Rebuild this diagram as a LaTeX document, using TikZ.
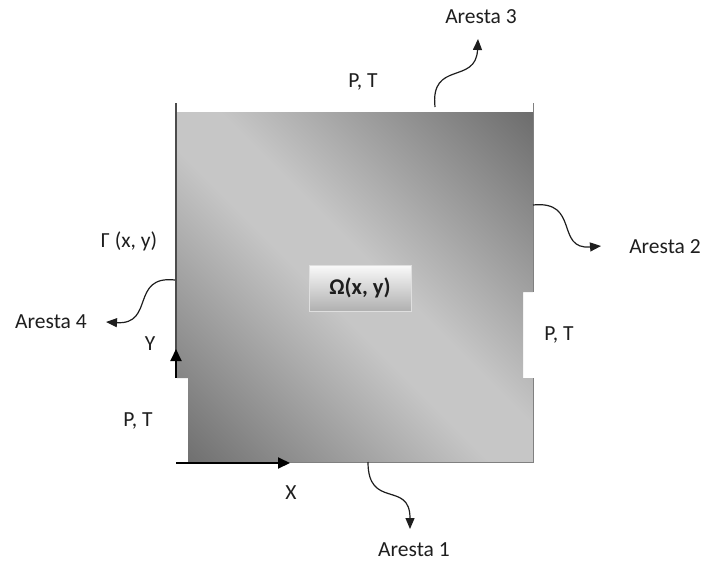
\documentclass[tikz,border=0pt]{standalone}
\usepackage{fontspec}
\setmainfont{Carlito}
\usetikzlibrary{arrows.meta}
\definecolor{shdark}{HTML}{686868}
\definecolor{shlight}{HTML}{C6C6C6}
\definecolor{edgegray}{HTML}{808080}
\definecolor{txt}{HTML}{1E1E1E}
\pgfdeclarehorizontalshading{diagshade}{100bp}{color(0bp)=(shdark); color(13bp)=(shdark); color(46bp)=(shlight); color(54bp)=(shlight); color(87bp)=(shdark); color(100bp)=(shdark)}
\tikzset{
  lbl/.style={anchor=base, inner sep=0pt, text=txt, font=\fontsize{21.5}{25}\selectfont},
  curvy/.style={draw=txt, line width=1.2pt, -{Triangle[length=11pt,width=9pt]}},
  axisarrow/.style={draw=black, line width=2pt, -{Triangle[length=12pt,width=11pt]}},
  omegabox/.style={draw=gray!25, top color=white!96!gray, bottom color=gray!62, minimum width=102pt, minimum height=46pt, inner sep=0pt, font=\bfseries\fontsize{22.5}{26}\selectfont, text=txt}
}
\begin{document}
\begin{tikzpicture}[x=1pt,y=-1pt]
\useasboundingbox[fill=white] (0,0) rectangle (706,562);
% domain
\path[shading=diagshade, shading angle=45] (177,112) -- (533,112) -- (533,292) -- (523,292) -- (523,378) -- (533,378) -- (533,462) -- (188,462) -- (188,378) -- (177,378) -- cycle;
\draw[edgegray, line width=1pt] (533,112) -- (533,292);
\draw[edgegray, line width=1pt] (533,378) -- (533,462) -- (188,462);
\draw[edgegray, line width=1pt] (533,103) -- (533,112);
\draw[black!70, line width=2pt] (176,103) -- (176,378);
% labels
\node[lbl] (a3) at (481,23) {Aresta 3};
\node[lbl] (pt3) at (363,87.5) {P, T};
\node[lbl] (a2) at (665,253) {Aresta 2};
\node[lbl] (gam) at (129,247) {Γ (x, y)};
\node[lbl] (a4) at (51,328.5) {Aresta 4};
\node[lbl] (ylab) at (150,350.5) {Y};
\node[lbl] (pt2) at (559,340.5) {P, T};
\node[lbl] (pt1) at (138,426.5) {P, T};
\node[lbl] (xlab) at (291,499.5) {X};
\node[lbl] (a1) at (414,556.5) {Aresta 1};
\node[omegabox] (om) at (360,288) {Ω(x, y)};
% curvy connectors
\coordinate (s3) at (435,107);
\coordinate (e3) at (478,39);
\coordinate (s2) at (533,205);
\coordinate (e2) at (601,246);
\coordinate (s4) at (175,280);
\coordinate (e4) at (106,322);
\coordinate (s1) at (368,462);
\coordinate (e1) at (410,529);
\draw[curvy] (s3) .. controls (430,60) and (476,85) .. (e3);
\draw[curvy] (s2) .. controls (580,200) and (555,250) .. (e2);
\draw[curvy] (s4) .. controls (130,275) and (155,325) .. (e4);
\draw[curvy] (s1) .. controls (368,510) and (410,480) .. (e1);
% axes
\coordinate (orig) at (176,463);
\coordinate (xend) at (290,463);
\coordinate (ybase) at (176,378);
\coordinate (yend) at (176,349);
\draw[axisarrow] (orig) -- (xend);
\draw[axisarrow] (ybase) -- (yend);
\end{tikzpicture}
\end{document}
